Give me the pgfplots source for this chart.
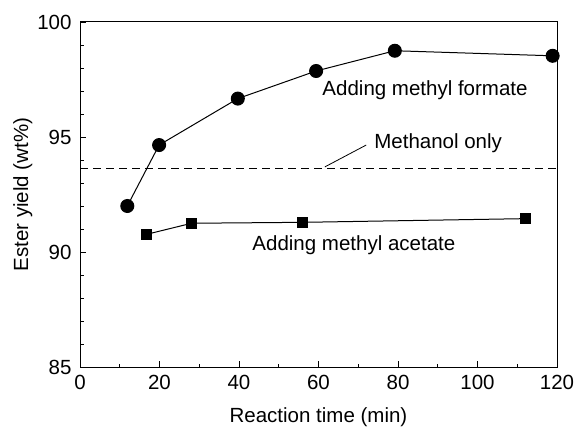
\documentclass[border=0pt]{standalone}
\usepackage{pgfplots}
\pgfplotsset{compat=1.18}
\usepackage{fontspec}
\setmainfont{Liberation Sans}
\begin{document}
\begin{tikzpicture}
\begin{axis}[
  name=ax,
  scale only axis, width=477bp, height=345bp,
  xmin=0, xmax=120, ymin=85, ymax=100,
  xtick={0,20,...,120}, ytick={85,90,95,100},
  minor x tick num=1, minor y tick num=4,
  tick pos=left, tick align=inside,
  major tick length=6bp, minor tick length=3.5bp,
  every tick/.style={black, line width=0.9bp},
  axis line style={line width=1bp},
  font=\fontsize{20.5bp}{24bp}\selectfont,
  /pgf/number format/assume math mode=true,
  yticklabel style={xshift=-5bp},
  xticklabel style={yshift=-5bp},
  xlabel={Reaction time (min)}, ylabel={Ester yield (wt\%)},
  xlabel style={yshift=-11bp},
  ylabel style={yshift=-2bp},
  clip=false,
]
\addplot[black, line width=1bp, mark=*, mark size=6.5bp] coordinates {
 (11.9,92.0) (19.9,94.65) (39.7,96.67) (59.4,97.87) (79.2,98.75) (118.9,98.53)};
\addplot[black, line width=1bp, mark=square*, mark size=5.2bp] coordinates {
 (16.8,90.77) (28.1,91.25) (56.0,91.29) (112.0,91.45)};
\addplot[black, line width=1bp, dash pattern=on 8bp off 5bp] coordinates {(0,93.62) (120,93.62)};
\addplot[black, line width=0.8bp] coordinates {(61.6,93.70) (72.0,94.65)};
\node[font=\fontsize{20.5bp}{24bp}\selectfont] at (axis cs:86.8,97.04) {Adding methyl formate};
\node[font=\fontsize{20.5bp}{24bp}\selectfont] at (axis cs:90.1,94.74) {Methanol only};
\node[font=\fontsize{20.5bp}{24bp}\selectfont] at (axis cs:68.9,90.30) {Adding methyl acetate};
\end{axis}
\pgfresetboundingbox
\path ([xshift=-80bp,yshift=-60bp]ax.south west) rectangle ([xshift=19bp,yshift=22bp]ax.north east);
\end{tikzpicture}
\end{document}
